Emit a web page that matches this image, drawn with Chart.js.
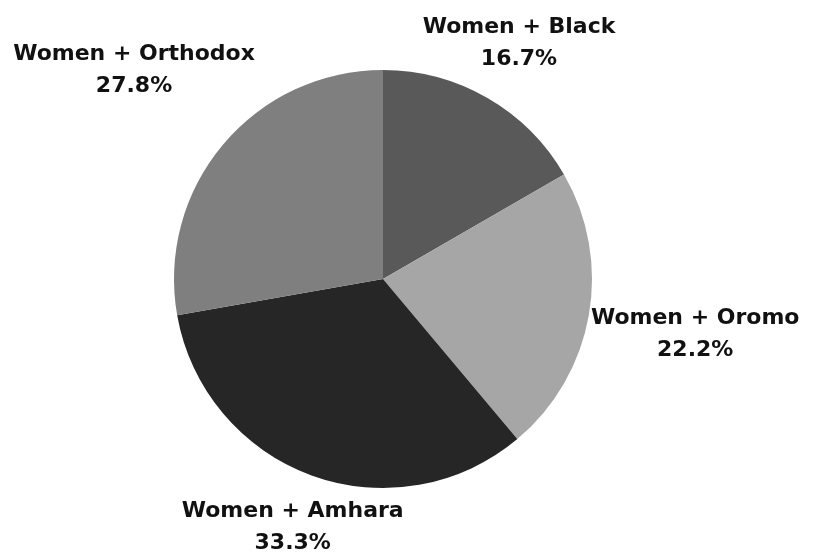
<!DOCTYPE html>
<html lang="en">
<head>
<meta charset="UTF-8">
<script src="https://cdn.jsdelivr.net/npm/chart.js"></script>
<style>
  html, body { margin: 0; padding: 0; background: #fff; }
  #wrap { width: 820px; height: 554px; }
</style>
</head>
<body>
<div id="wrap"><canvas id="grafico" width="820" height="554"></canvas></div>
<script>
  // dados
  const categorias = ['Women + Black', 'Women + Oromo', 'Women + Amhara', 'Women + Orthodox'];
  const valores = [3, 4, 6, 5];
  const percentuais = ['16.7%', '22.2%', '33.3%', '27.8%'];
  const cores = ['#595959', '#a6a6a6', '#262626', '#7f7f7f'];

  // distancia do rotulo ao centro (px)
  const distRotulo = [272, 317, 264, 325];

  const rotulos = {
    id: 'rotulos',
    afterDatasetsDraw(chart) {
      const ctx = chart.ctx;
      const meta = chart.getDatasetMeta(0);
      ctx.save();
      ctx.fillStyle = '#111';
      ctx.textAlign = 'center';
      ctx.textBaseline = 'middle';
      ctx.font = 'bold 22px "DejaVu Sans"';
      meta.data.forEach((arc, i) => {
        const ang = (arc.startAngle + arc.endAngle) / 2;
        const x = arc.x + Math.cos(ang) * distRotulo[i];
        const y = arc.y + Math.sin(ang) * distRotulo[i];
        ctx.fillText(categorias[i], x, y - 16);
        ctx.fillText(percentuais[i], x, y + 16);
      });
      ctx.restore();
    }
  };

  new Chart(document.getElementById('grafico').getContext('2d'), {
    type: 'pie',
    data: {
      labels: categorias,
      datasets: [{
        data: valores,
        backgroundColor: cores,
        borderWidth: 0
      }]
    },
    options: {
      responsive: false,
      animation: false,
      layout: { padding: { left: 174, right: 228, top: 70, bottom: 66 } },
      plugins: {
        legend: { display: false },
        tooltip: { enabled: false }
      }
    },
    plugins: [rotulos]
  });
</script>
</body>
</html>
